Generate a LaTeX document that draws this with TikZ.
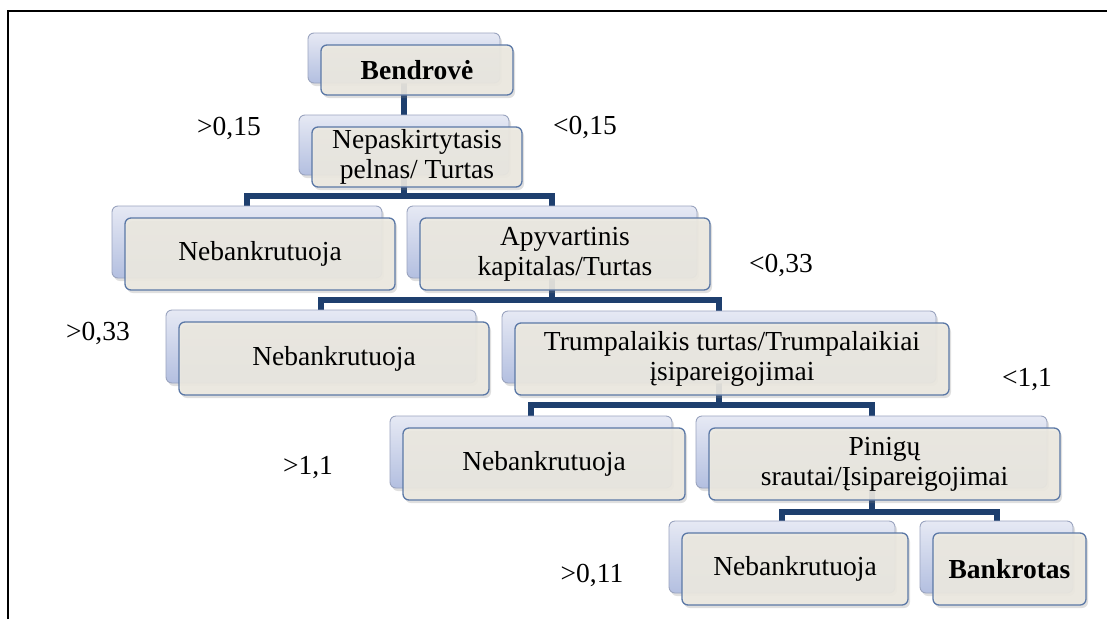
\documentclass[tikz,border=0pt]{standalone}
\usepackage{fontspec}
\setmainfont{Liberation Serif}
\usetikzlibrary{shadows}
\pgfdeclarelayer{background}
\pgfdeclarelayer{paper}
\pgfsetlayers{paper,background,main}

\definecolor{linkblue}{HTML}{1E3F6E}
\definecolor{backtop}{HTML}{E6E9F4}
\definecolor{backbot}{HTML}{B3BFE0}
\definecolor{backedge}{HTML}{9AA4BF}
\definecolor{frontfill}{HTML}{EDEAE1}
\definecolor{frontedge}{HTML}{5B78A6}

\tikzset{
  backbox/.style={rectangle, rounded corners=6pt, draw=backedge, line width=0.9pt,
    top color=backtop, bottom color=backbot, inner sep=0pt, outer sep=0pt,
    drop shadow={shadow xshift=2pt, shadow yshift=-3pt, opacity=0.25}},
  frontbox/.style={rectangle, rounded corners=6pt, draw=frontedge, line width=1.3pt,
    fill=frontfill, fill opacity=0.9, text opacity=1, inner sep=0pt, outer sep=0pt,
    align=center, font=\fontsize{27.5}{30}\selectfont,
    drop shadow={shadow xshift=2pt, shadow yshift=-3pt, opacity=0.25}},
  link/.style={draw=linkblue, line width=6pt, line join=miter},
  ratio/.style={font=\fontsize{27.5}{30}\selectfont, inner sep=0pt}
}

% #1 name, #2/#3 centre of the front box, #4 width, #5 height, #6 text
\newcommand\twinbox[6]{%
  \node[backbox, minimum width=#4pt, minimum height=#5pt] (#1b) at (#2-13,#3-12) {};
  \node[frontbox, minimum width=#4pt, minimum height=#5pt] (#1) at (#2,#3) {#6};
}

\begin{document}
\begin{tikzpicture}[x=1pt, y=-1pt]
  \useasboundingbox (0,0) rectangle (1107,619);
  \begin{pgfonlayer}{paper}
    \fill[white] (0,0) rectangle (1107,619);
  \end{pgfonlayer}

  % frame
  \draw[line width=1.8pt] (8,619) -- (8,11) -- (1107,11);

  % boxes
  \twinbox{A}{417}{70}{192}{50}{\textbf{Bendrovė}}
  \twinbox{B}{417}{157}{210}{60}{Nepaskirtytasis\\pelnas/ Turtas}
  \twinbox{C}{260}{254}{270}{72}{Nebankrutuoja}
  \twinbox{D}{565}{254}{290}{72}{Apyvartinis\\kapitalas/Turtas}
  \twinbox{E}{334}{358.5}{310}{73}{Nebankrutuoja}
  \twinbox{F}{732}{359}{434}{72}{Trumpalaikis turtas/Trumpalaikiai\\įsipareigojimai}
  \twinbox{G}{544}{464}{282}{72}{Nebankrutuoja}
  \twinbox{H}{884.5}{464}{351}{72}{Pinigų\\srautai/Įsipareigojimai}
  \twinbox{I}{795}{569}{226}{72}{Nebankrutuoja}
  \twinbox{J}{1009.5}{569}{153}{72}{\textbf{Bankrotas}}

  % threshold labels
  \node[ratio] (l1) at (229,128) {>0,15};
  \node[ratio] (l2) at (585,127) {<0,15};
  \node[ratio] (l3) at (781,265) {<0,33};
  \node[ratio] (l4) at (98,333) {>0,33};
  \node[ratio] (l5) at (1027,380) {<1,1};
  \node[ratio] (l6) at (308,468) {>1,1};
  \node[ratio] (l7) at (592,575) {>0,11};

  % connectors
  \coordinate (r2) at (0,196);
  \coordinate (r3) at (0,300);
  \coordinate (r4) at (0,405);
  \coordinate (r5) at (0,512);
  \begin{pgfonlayer}{background}
    \draw[link] (Ab.south) -- (Bb.north);
    \draw[link] (Bb.south) -- (Bb.south |- r2) -| (Cb.north);
    \draw[link] (Bb.south |- r2) -| (Db.north);
    \draw[link] (Db.south) -- (Db.south |- r3) -| (Eb.north);
    \draw[link] (Db.south |- r3) -| (Fb.north);
    \draw[link] (Fb.south) -- (Fb.south |- r4) -| (Gb.north);
    \draw[link] (Fb.south |- r4) -| (Hb.north);
    \draw[link] (Hb.south) -- (Hb.south |- r5) -| (Ib.north);
    \draw[link] (Hb.south |- r5) -| (Jb.north);
  \end{pgfonlayer}
\end{tikzpicture}
\end{document}
